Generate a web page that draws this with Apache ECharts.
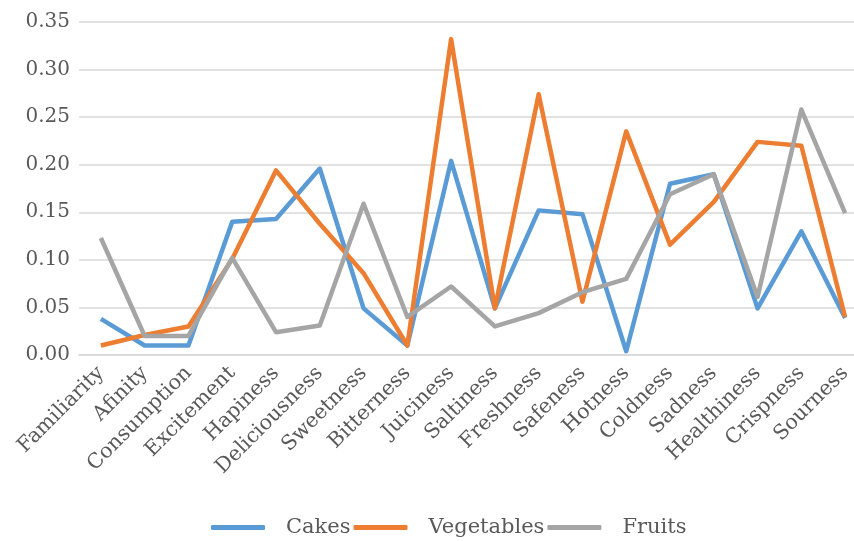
<!DOCTYPE html>
<html lang="en">
<head>
  <meta charset="UTF-8">
  <title>Food attributes</title>
  <script src="https://cdn.jsdelivr.net/npm/echarts@6/dist/echarts.min.js"></script>
  <style>
    html, body { margin: 0; padding: 0; background: #fff; overflow: hidden; }
    /* the source picture is cut off on the right, so the chart runs past the window */
    #chart { width: 867px; height: 541px; }
  </style>
</head>
<body>
  <div id="chart"></div>
  <script>
    // categories on the x axis
    var categories = ['Familiarity', 'Afinity', 'Consumption', 'Excitement', 'Hapiness', 'Deliciousness',
      'Sweetness', 'Bitterness', 'Juiciness', 'Saltiness', 'Freshness', 'Safeness', 'Hotness',
      'Coldness', 'Sadness', 'Healthiness', 'Crispness', 'Sourness'];
    // series values
    var cakes = [0.038, 0.010, 0.010, 0.140, 0.143, 0.196, 0.049, 0.010, 0.204, 0.049,
      0.152, 0.148, 0.004, 0.180, 0.190, 0.049, 0.130, 0.039];
    var vegetables = [0.010, 0.021, 0.030, 0.101, 0.194, 0.138, 0.086, 0.010, 0.332, 0.049,
      0.274, 0.056, 0.235, 0.116, 0.161, 0.224, 0.220, 0.040];
    var fruits = [0.123, 0.020, 0.020, 0.102, 0.024, 0.031, 0.159, 0.040, 0.072, 0.030,
      0.044, 0.066, 0.080, 0.169, 0.190, 0.061, 0.258, 0.149];

    var font = 'DejaVu Serif';
    var txt = '#595959';

    function line(name, data, color) {
      return {
        name: name,
        type: 'line',
        data: data,
        symbol: 'none',
        lineStyle: { color: color, width: 4.5, join: 'round' },
        itemStyle: { color: color }
      };
    }

    var myChart = echarts.init(document.getElementById('chart'));
    var option = {
      animation: false,
      grid: { left: 79, right: 0, top: 22, bottom: 186 },
      xAxis: {
        type: 'category',
        data: categories,
        boundaryGap: true,
        axisLine: { lineStyle: { color: '#d9d9d9', width: 1.5 } },
        axisTick: { show: false },
        axisLabel: {
          rotate: 45, interval: 0, margin: 15,
          color: txt, fontFamily: font, fontSize: 20.5
        }
      },
      yAxis: {
        type: 'value',
        min: 0, max: 0.35, interval: 0.05,
        axisLine: { show: false },
        axisTick: { show: false },
        splitLine: { lineStyle: { color: '#d9d9d9', width: 1.5 } },
        axisLabel: {
          margin: 9, color: txt, fontFamily: font, fontSize: 20,
          formatter: function (v) { return v.toFixed(2); }
        }
      },
      legend: {
        bottom: -2,
        left: 206,
        icon: 'roundRect',
        itemWidth: 54,
        itemHeight: 5,
        itemGap: 3,
        textStyle: { color: txt, fontFamily: font, fontSize: 21, padding: [0, 0, 0, 16] },
        data: ['Cakes', 'Vegetables', 'Fruits']
      },
      series: [
        line('Cakes', cakes, '#5B9BD5'),
        line('Vegetables', vegetables, '#ED7D31'),
        line('Fruits', fruits, '#A5A5A5')
      ]
    };
    myChart.setOption(option);
  </script>
</body>
</html>
